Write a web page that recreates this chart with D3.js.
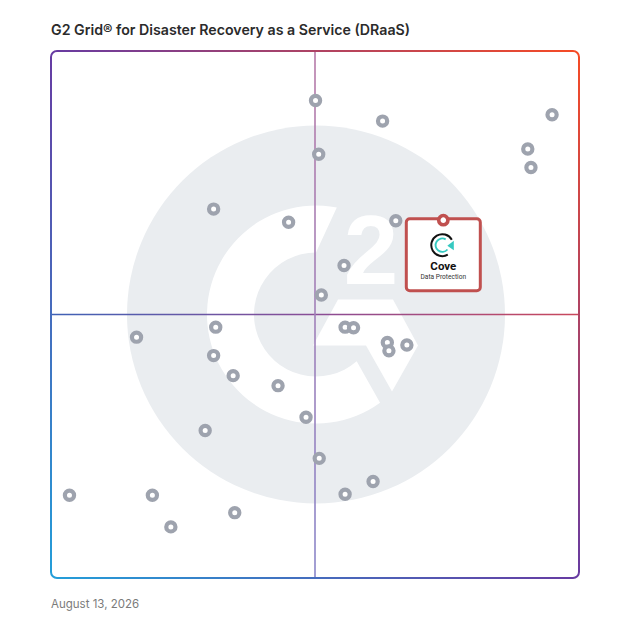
<!DOCTYPE html>
<html>
<head>
<meta charset="utf-8">
<script src="https://cdn.jsdelivr.net/npm/d3@7"></script>
<style>
  html, body { margin: 0; padding: 0; background: #fff; }
  svg { display: block; }
</style>
</head>
<body>
<div id="chart"></div>
<script>
// satisfaction (x) and market presence (y), 0-100
const satisfaction = [50.1, 62.8, 94.9, 90.3, 90.9, 50.7, 30.8, 45.0, 65.3, 55.5,
                      51.2, 31.2, 16.2, 55.7, 57.3, 63.7, 64.0, 67.4, 30.8, 34.5,
                      43.0, 48.3, 29.2, 50.8, 61.0, 55.7, 3.5, 19.2, 22.7, 34.8];
const marketPresence = [90.6, 86.7, 87.9, 81.4, 77.9, 80.4, 70.0, 67.5, 67.8, 59.3,
                        53.7, 47.6, 45.7, 47.6, 47.5, 44.7, 43.1, 44.2, 42.2, 38.4,
                        36.5, 30.5, 28.0, 22.7, 18.3, 15.9, 15.7, 15.7, 9.7, 12.4];
const featured = { name: "Cove", sub: "Data Protection", x: 74.3, y: 67.9 };
const title = "G2 Grid\u00AE for Disaster Recovery as a Service (DRaaS)";
const dateLabel = "August 13, 2026";

const W = 628, H = 628;
const margin = { top: 51, right: 49, bottom: 50, left: 51 };

const svg = d3.select("#chart").append("svg")
    .attr("width", W)
    .attr("height", H);

const x = d3.scaleLinear().domain([0, 100]).range([margin.left, W - margin.right]);
const y = d3.scaleLinear().domain([0, 100]).range([H - margin.bottom, margin.top]);

const defs = svg.append("defs");

// frame gradient, top right orange down to bottom left blue
const fg = defs.append("linearGradient")
    .attr("id", "frameGrad")
    .attr("gradientUnits", "userSpaceOnUse")
    .attr("x1", x(100)).attr("y1", y(100))
    .attr("x2", x(0)).attr("y2", y(0));
fg.append("stop").attr("offset", 0).attr("stop-color", "#f64b25");
fg.append("stop").attr("offset", 0.5).attr("stop-color", "#673ba2");
fg.append("stop").attr("offset", 1).attr("stop-color", "#239ed9");

const hg = defs.append("linearGradient")
    .attr("id", "hGrad")
    .attr("gradientUnits", "userSpaceOnUse")
    .attr("x1", x(0)).attr("y1", 0).attr("x2", x(100)).attr("y2", 0);
hg.append("stop").attr("offset", 0).attr("stop-color", "#3f62b6");
hg.append("stop").attr("offset", 0.5).attr("stop-color", "#8a4d96");
hg.append("stop").attr("offset", 1).attr("stop-color", "#c9485c");

const vg = defs.append("linearGradient")
    .attr("id", "vGrad")
    .attr("gradientUnits", "userSpaceOnUse")
    .attr("x1", 0).attr("y1", y(100)).attr("x2", 0).attr("y2", y(0));
vg.append("stop").attr("offset", 0).attr("stop-color", "#b77aa8");
vg.append("stop").attr("offset", 1).attr("stop-color", "#8a86c9");

// watermark G2 logo behind the grid
const cx = x(50) + 1, cy = y(50);
const logo = svg.append("g").attr("transform", `translate(${cx},${cy})`);
logo.append("circle").attr("r", 189).attr("fill", "#eaedf0");

const rad = d => d * Math.PI / 180;
const pt = (r, a) => [r * Math.cos(rad(a)), r * Math.sin(rad(a))];
const R = 109, r0 = 62;
const oT = pt(R, -79), oB = pt(R, 54), iB = pt(r0, 49), iT = pt(r0, -90);
logo.append("path")
    .attr("d", `M${oT} A${R},${R} 0 1 0 ${oB} L${iB} A${r0},${r0} 0 1 1 ${iT} Z`)
    .attr("fill", "#fff");

logo.append("text")
    .attr("x", 55).attr("y", -31)
    .attr("text-anchor", "middle")
    .attr("font-family", "Liberation Sans, Arial, sans-serif")
    .attr("font-weight", 700)
    .attr("font-size", 98)
    .attr("fill", "#fff")
    .text("2");

// chevron
const chev = [[22, -15], [77, -15], [102, 31], [76, 77], [50, 31], [-3, 31]];
logo.append("path")
    .attr("d", d3.line()(chev) + "Z")
    .attr("fill", "#fff");

// quadrant lines
svg.append("line")
    .attr("x1", x(0)).attr("x2", x(100))
    .attr("y1", y(50)).attr("y2", y(50))
    .attr("stroke", "url(#hGrad)")
    .attr("stroke-width", 1.6);
svg.append("line")
    .attr("x1", x(50)).attr("x2", x(50))
    .attr("y1", y(100)).attr("y2", y(0))
    .attr("stroke", "url(#vGrad)")
    .attr("stroke-width", 1.6);

// frame
svg.append("rect")
    .attr("x", x(0)).attr("y", y(100))
    .attr("width", x(100) - x(0))
    .attr("height", y(0) - y(100))
    .attr("rx", 6)
    .attr("fill", "none")
    .attr("stroke", "url(#frameGrad)")
    .attr("stroke-width", 2);

// products
const points = satisfaction.map((s, i) => ({ x: s, y: marketPresence[i] }));
svg.append("g").selectAll("circle")
    .data(points)
    .join("circle")
    .attr("cx", d => x(d.x))
    .attr("cy", d => y(d.y))
    .attr("r", 4.6)
    .attr("fill", "#fff")
    .attr("stroke", "#9ea3ae")
    .attr("stroke-width", 4.2);

// featured product card
const fx = x(featured.x), fy = y(featured.y);
const card = svg.append("g").attr("transform", `translate(${fx},${fy})`);
card.append("rect")
    .attr("x", -37).attr("y", -1.5)
    .attr("width", 74).attr("height", 72)
    .attr("rx", 3.5)
    .attr("fill", "#fff")
    .attr("stroke", "#c0504f")
    .attr("stroke-width", 3);
card.append("circle")
    .attr("r", 4.6)
    .attr("fill", "#fff")
    .attr("stroke", "#c0504f")
    .attr("stroke-width", 3.6);

// little Cove mark
const mark = card.append("g").attr("transform", "translate(-1,25)");
mark.append("path")
    .attr("d", d3.arc().innerRadius(10).outerRadius(12).startAngle(rad(60)).endAngle(rad(330))())
    .attr("transform", "rotate(90)")
    .attr("fill", "#111");
mark.append("path")
    .attr("d", d3.arc().innerRadius(5.8).outerRadius(7.7).startAngle(rad(40)).endAngle(rad(300))())
    .attr("transform", "rotate(90)")
    .attr("fill", "#35c9c1");
mark.append("path")
    .attr("d", d3.line()([[5, 0.5], [11.5, -4.5], [11.5, 5]]) + "Z")
    .attr("fill", "#35c9c1");

card.append("text")
    .attr("x", 0).attr("y", 50)
    .attr("text-anchor", "middle")
    .attr("font-family", "Roboto, sans-serif")
    .attr("font-weight", 700)
    .attr("font-size", 11.5)
    .attr("fill", "#111")
    .text(featured.name);
card.append("text")
    .attr("x", 0).attr("y", 58.5)
    .attr("text-anchor", "middle")
    .attr("font-family", "Roboto, sans-serif")
    .attr("font-size", 6.6)
    .attr("fill", "#333")
    .text(featured.sub);

// title and date
svg.append("text")
    .attr("x", x(0)).attr("y", 35)
    .attr("font-family", "Inter, sans-serif")
    .attr("font-weight", 600)
    .attr("font-size", 14.2)
    .attr("fill", "#2b2b2b")
    .text(title);

svg.append("text")
    .attr("x", x(0)).attr("y", 608)
    .attr("font-family", "Inter, sans-serif")
    .attr("font-size", 11.5)
    .attr("fill", "#7b7b7b")
    .text(dateLabel);
</script>
</body>
</html>
